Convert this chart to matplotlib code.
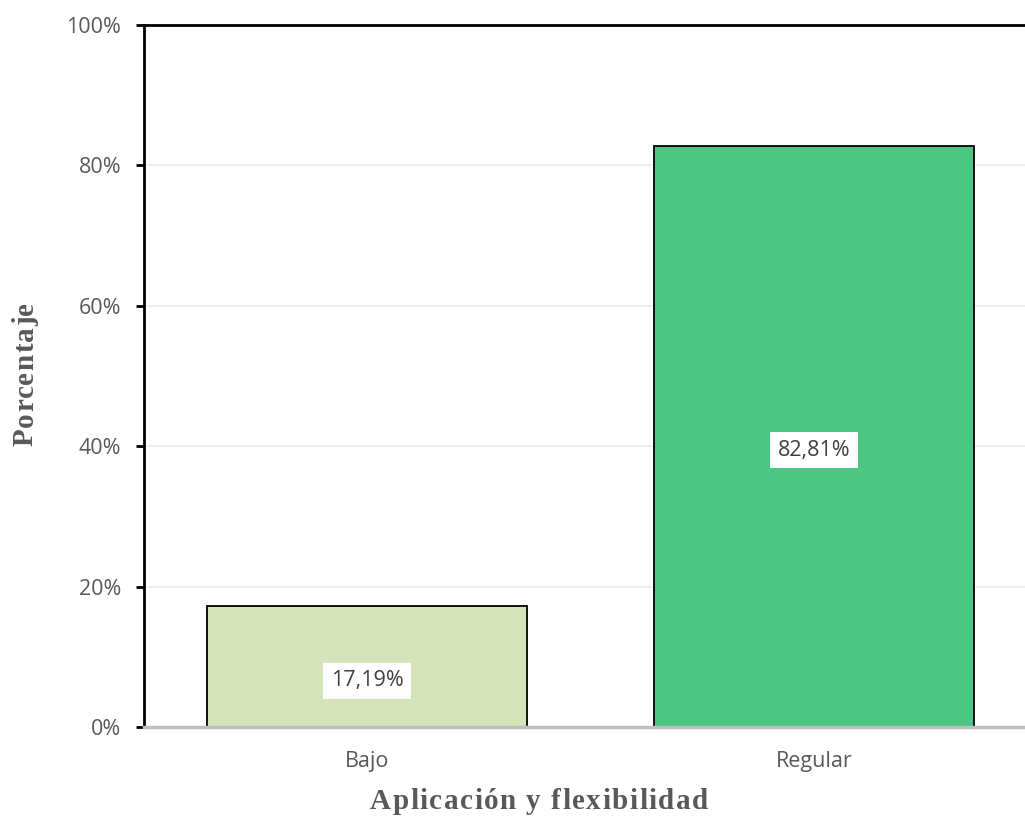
import matplotlib.pyplot as plt
from matplotlib.ticker import FixedLocator

categories = ["Bajo", "Regular"]
values = [17.19, 82.81]
bar_colors = ["#d4e3b9", "#4dc683"]
y_ticks = [0, 20, 40, 60, 80, 100]
y_tick_labels = ["0%", "20%", "40%", "60%", "80%", "100%"]
value_labels = ["17,19%", "82,81%"]
x_title = "Aplicación y flexibilidad"
y_title = "Porcentaje"

W, H = 1025, 816
fig = plt.figure(figsize=(W / 100, H / 100), dpi=100)
ax = fig.add_axes([143.5 / W, 1 - 727 / H, 894 / W, 702 / H])

x = list(range(len(categories)))
ax.bar(x, values, width=0.714, color=bar_colors, edgecolor="black",
       linewidth=1.3, zorder=3)

ax.set_xlim(-0.5, 1.5)
ax.set_ylim(0, 100)
ax.yaxis.set_major_locator(FixedLocator(y_ticks))
ax.set_yticklabels(y_tick_labels)
ax.set_xticks(x)
ax.set_xticklabels(categories)

tick_font = "Open Sans"
for lbl in ax.get_yticklabels() + ax.get_xticklabels():
    lbl.set_fontfamily(tick_font)
    lbl.set_fontsize(15.5)
    lbl.set_color("#595959")

ax.tick_params(axis="y", direction="out", length=6, width=2, color="black", pad=10)
ax.tick_params(axis="x", length=0, pad=17)

ax.grid(axis="y", color="#ececec", linewidth=1.2, zorder=0)
ax.set_axisbelow(True)

for side in ["left", "top"]:
    ax.spines[side].set_color("black")
    ax.spines[side].set_linewidth(2)
ax.spines["right"].set_visible(False)
ax.spines["bottom"].set_color("#bfbfbf")
ax.spines["bottom"].set_linewidth(2.5)
ax.spines["bottom"].set_zorder(4)

for xi, v, txt in zip(x, values, value_labels):
    ax.annotate(txt, (xi, v / 2), xytext=(0, -10), textcoords="offset points",
                ha="center", va="center", fontsize=15.5, family=tick_font,
                color="#404040", zorder=5,
                bbox=dict(boxstyle="square,pad=0.35", fc="white", ec="none"))


def spaced_text(text, cx, base, spacing, vertical=False, **kw):
    """Draw text centred at pixel cx (along its direction) with its baseline
    at pixel `base`, adding extra letter spacing between glyphs."""
    renderer = fig.canvas.get_renderer()
    probe = fig.text(0, 0, "", **kw)

    def width(s):
        if not s:
            return 0.0
        probe.set_text(s.replace(" ", "\u00a0"))
        return probe.get_window_extent(renderer).width

    total = width(text) + spacing * (len(text) - 1)
    offsets = [width(text[:i]) + spacing * i for i in range(len(text))]
    probe.remove()
    start = cx - total / 2
    for ch, off in zip(text, offsets):
        if ch == " ":
            continue
        if vertical:
            fig.text(base / W, (start + off) / H, ch, rotation=90,
                     rotation_mode="anchor", ha="left", va="baseline", **kw)
        else:
            fig.text((start + off) / W, base / H, ch,
                     ha="left", va="baseline", **kw)


title_kw = dict(fontsize=21, fontweight="bold", family="Liberation Serif",
                color="#595959")
spaced_text(x_title, 539, H - 809, 1.5, **title_kw)
spaced_text(y_title, H - 374, 33, 1.2, vertical=True, **title_kw)

fig.savefig("out.png", dpi=100)
